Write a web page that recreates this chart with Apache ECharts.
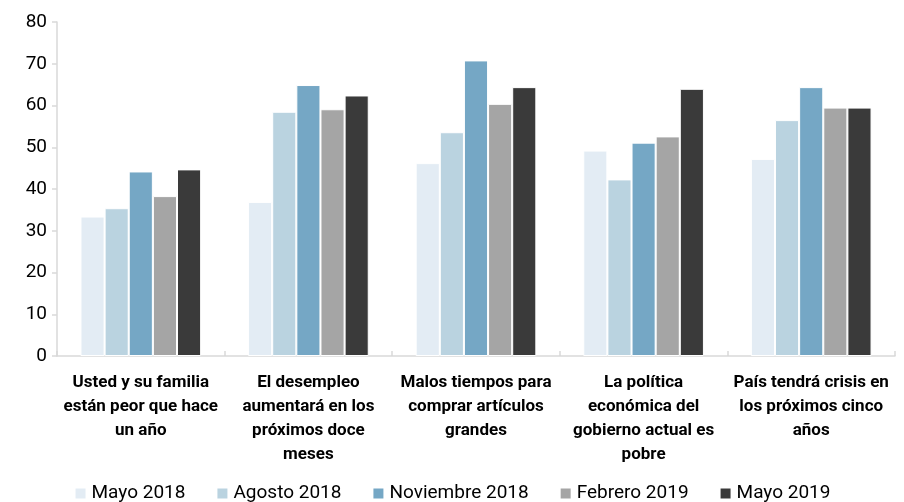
<!DOCTYPE html>
<html><head><meta charset="utf-8">
<script src="https://cdn.jsdelivr.net/npm/echarts@6/dist/echarts.min.js"></script>
<style>html,body{margin:0;padding:0;background:#fff}#c{width:904px;height:502px}</style>
</head><body><div id="c"></div>
<script>
var categories = [
  "Usted y su familia\nestán peor que hace\nun año",
  "El desempleo\naumentará en los\npróximos doce\nmeses",
  "Malos tiempos para\ncomprar artículos\ngrandes",
  "La política\neconómica del\ngobierno actual es\npobre",
  "País tendrá crisis en\nlos próximos cinco\naños"
];
var seriesNames = ["Mayo 2018", "Agosto 2018", "Noviembre 2018", "Febrero 2019", "Mayo 2019"];
var mayo2018 = [33.4, 36.9, 46.2, 49.2, 47.2];
var agosto2018 = [35.4, 58.5, 53.6, 42.3, 56.5];
var noviembre2018 = [44.2, 64.9, 70.8, 51.1, 64.4];
var febrero2019 = [38.3, 59.1, 60.4, 52.6, 59.5];
var mayo2019 = [44.7, 62.4, 64.4, 64.0, 59.5];
var colors = ["#E3ECF4", "#BAD3E0", "#75A7C5", "#A5A5A5", "#3A3A3A"];
var yTicks = [0, 10, 20, 30, 40, 50, 60, 70, 80];

var FONT = "'Liberation Sans Narrow', 'Roboto', sans-serif";
var allData = [mayo2018, agosto2018, noviembre2018, febrero2019, mayo2019];
var chart = echarts.init(document.getElementById('c'));
chart.setOption({
  animation: false,
  color: colors,
  grid: {left: 57, right: 9, top: 22, bottom: 146},
  legend: {
    top: 479, left: 'center', itemWidth: 12, itemHeight: 12, itemGap: 30,
    icon: 'rect',
    textStyle: {fontFamily: FONT, fontSize: 19, color: '#000'},
    data: seriesNames
  },
  xAxis: {
    type: 'category', data: categories,
    axisLine: {lineStyle: {color: '#D9D9D9', width: 1.5}},
    axisTick: {show: true, inside: true, length: 5, lineStyle: {color: '#D9D9D9', width: 1.5}},
    axisLabel: {interval: 0, fontFamily: FONT, fontWeight: 'bold', fontSize: 17, color: '#000', lineHeight: 24, margin: 15}
  },
  yAxis: {
    type: 'value', min: 0, max: 80, interval: 10,
    splitLine: {show: false},
    axisLine: {show: true, lineStyle: {color: '#D9D9D9', width: 1.5}},
    axisTick: {show: true, length: 5, lineStyle: {color: '#D9D9D9', width: 1.5}},
    axisLabel: {fontFamily: FONT, fontSize: 19, color: '#000', margin: 10,
      formatter: function (v) { return yTicks.indexOf(v) >= 0 ? String(v) : ''; }}
  },
  series: seriesNames.map(function (n, i) {
    return {
      name: n, type: 'bar', data: allData[i],
      barGap: '0%', barCategoryGap: '28%',
      itemStyle: {color: colors[i], borderColor: '#fff', borderWidth: 1}
    };
  })
});
</script></body></html>
